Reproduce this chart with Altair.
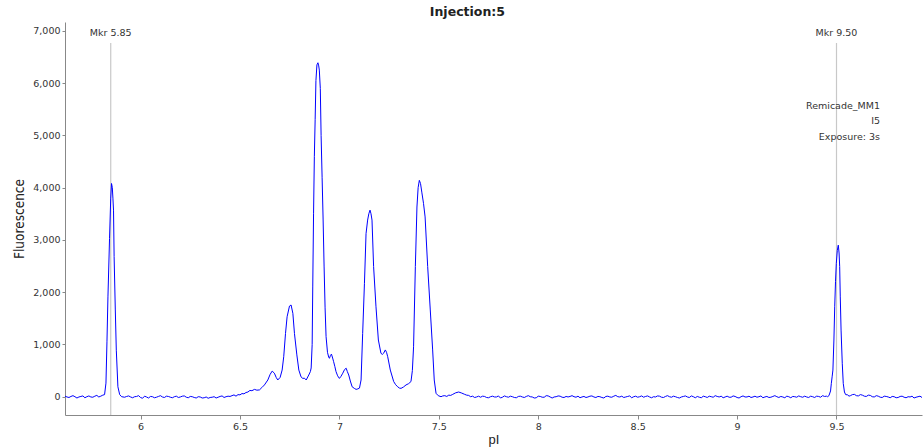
import altair as alt
import pandas as pd

# ---- trace data (pI, fluorescence) ----
baseline_left = [(5.620, 10), (5.630, -5), (5.640, -15), (5.650, 5), (5.660, 20), (5.670, 0), (5.680, -25),
                 (5.690, -5), (5.700, 5), (5.710, 15), (5.720, -20), (5.730, 0), (5.740, 15), (5.750, -5),
                 (5.760, -10), (5.770, 10), (5.780, 25), (5.790, -5), (5.800, 10), (5.810, 30)]

marker_peak_low = [(5.819, 40), (5.826, 260), (5.831, 1050), (5.836, 1910), (5.844, 3030),
                   (5.850, 3800), (5.854, 4080), (5.858, 4000), (5.861, 3800), (5.864, 3570),
                   (5.867, 2680), (5.873, 1660), (5.878, 890), (5.886, 190), (5.895, 40), (5.905, 0)]

baseline_mid = [(5.92, -10), (5.93, 5), (5.94, 15), (5.95, -5), (5.96, -20), (5.97, 0), (5.98, 5), (5.99, 20),
                (6.00, -15), (6.01, -30), (6.02, 10), (6.03, -5), (6.04, -25), (6.05, 5), (6.06, 0), (6.07, -20),
                (6.08, -10), (6.09, 5), (6.10, 20), (6.11, -5), (6.12, -15), (6.13, 10), (6.14, 5), (6.15, -10),
                (6.16, -20), (6.17, 0), (6.18, 10), (6.19, -15), (6.20, -5), (6.21, 10), (6.22, 15), (6.23, -10),
                (6.24, -20), (6.25, 5), (6.26, 0), (6.27, -15), (6.28, -25), (6.29, 0), (6.30, -5), (6.31, -25),
                (6.32, -20), (6.33, -5), (6.34, -30), (6.35, -15), (6.36, -10), (6.37, 0), (6.38, -25), (6.39, -10),
                (6.40, 5), (6.41, 15), (6.42, -15), (6.43, 0), (6.44, 10), (6.45, 5)]

sample_peaks = [(6.46, 20), (6.47, 35), (6.48, 10), (6.49, 40), (6.50, 35), (6.51, 60), (6.52, 55), (6.53, 80),
                (6.54, 90), (6.55, 120), (6.56, 115),
                (6.573, 140), (6.585, 125), (6.598, 130), (6.61, 175), (6.623, 225), (6.64, 320),
                (6.652, 430), (6.662, 490), (6.673, 450), (6.682, 370), (6.690, 320), (6.702, 370),
                (6.712, 510), (6.720, 765), (6.729, 1210), (6.737, 1530), (6.749, 1735), (6.757, 1755),
                (6.766, 1595), (6.774, 1210), (6.786, 800), (6.796, 510), (6.807, 380), (6.816, 350),
                (6.824, 355), (6.833, 320), (6.846, 415), (6.854, 480), (6.858, 550), (6.863, 1000),
                (6.866, 2100), (6.870, 3500), (6.874, 4600), (6.878, 5300), (6.882, 6050), (6.887, 6350),
                (6.892, 6390), (6.896, 6330), (6.899, 6250), (6.904, 5900), (6.908, 5000), (6.913, 4200),
                (6.918, 3400), (6.923, 2500), (6.928, 1700), (6.933, 1150), (6.940, 850), (6.946, 760),
                (6.950, 735), (6.955, 790), (6.960, 815), (6.966, 740), (6.971, 670), (6.977, 580),
                (6.983, 480), (6.991, 400), (7.000, 350), (7.008, 390), (7.017, 450), (7.026, 520),
                (7.034, 545), (7.040, 480), (7.047, 415), (7.055, 300), (7.064, 190), (7.075, 160),
                (7.084, 140), (7.093, 150), (7.101, 165), (7.109, 320), (7.117, 1210), (7.126, 2170),
                (7.134, 3120), (7.142, 3380), (7.148, 3500), (7.154, 3570), (7.159, 3500), (7.164, 3380),
                (7.172, 2490), (7.184, 1720), (7.196, 1085), (7.209, 830), (7.216, 810), (7.222, 830),
                (7.231, 895), (7.237, 850), (7.243, 765), (7.256, 510), (7.273, 290), (7.283, 230),
                (7.293, 190), (7.302, 165), (7.310, 160), (7.322, 185), (7.335, 225), (7.348, 250),
                (7.360, 290), (7.367, 500), (7.373, 955), (7.382, 2490), (7.390, 3630), (7.396, 4000),
                (7.402, 4140), (7.408, 4080), (7.415, 3900), (7.423, 3700), (7.431, 3440), (7.444, 2490),
                (7.457, 1660), (7.469, 895), (7.477, 320), (7.486, 65), (7.497, 20), (7.511, 0),
                (7.52, 15), (7.53, 20), (7.54, 5), (7.55, 30), (7.56, 25), (7.57, 45), (7.585, 75), (7.60, 90),
                (7.615, 70), (7.63, 45), (7.64, 30), (7.65, 25), (7.66, 0), (7.67, 10), (7.68, -15), (7.69, -5),
                (7.70, 10)]

baseline_right = [(7.71, -10), (7.72, 10), (7.73, 5), (7.74, -15), (7.75, -20), (7.76, 0), (7.77, 10), (7.78, -5),
                  (7.79, -5), (7.80, 15), (7.81, -25), (7.82, -10), (7.83, 15), (7.84, 0), (7.85, -10), (7.86, 10),
                  (7.87, 0), (7.88, -15), (7.89, -20), (7.90, 5),
                  (7.91, 10), (7.92, -5), (7.93, -15), (7.94, 5), (7.95, 20), (7.96, 0), (7.97, -5), (7.98, -25),
                  (7.99, -20), (8.00, 10), (8.01, 5), (8.02, -10), (8.03, -10), (8.04, 20), (8.05, 15), (8.06, -5),
                  (8.07, -25), (8.08, -5), (8.09, 0), (8.10, 15),
                  (8.11, 10), (8.12, -10), (8.13, -15), (8.14, 5), (8.15, -5), (8.16, 5), (8.17, 20), (8.18, 0),
                  (8.19, -10), (8.20, 10), (8.21, -20), (8.22, -5), (8.23, 5), (8.24, -15), (8.25, -5), (8.26, 10),
                  (8.27, 15), (8.28, -5), (8.29, -15), (8.30, 5),
                  (8.31, 0), (8.32, -15), (8.33, -25), (8.34, 5), (8.35, 10), (8.36, -5), (8.37, -10), (8.38, 10),
                  (8.39, 25), (8.40, 0), (8.41, -5), (8.42, 10), (8.43, -15), (8.44, -5), (8.45, 5), (8.46, 15),
                  (8.47, -20), (8.48, 0), (8.49, 10), (8.50, -10),
                  (8.51, 0), (8.52, 15), (8.53, -10), (8.54, 5), (8.55, 15), (8.56, -5), (8.57, -20), (8.58, 0),
                  (8.59, -5), (8.60, 15), (8.61, 10), (8.62, -10), (8.63, -15), (8.64, 5), (8.65, 20), (8.66, 0),
                  (8.67, -10), (8.68, 10), (8.69, 0), (8.70, -15),
                  (8.71, -25), (8.72, -5), (8.73, 5), (8.74, 15), (8.75, -5), (8.76, -15), (8.77, 15), (8.78, 0),
                  (8.79, -20), (8.80, 5), (8.81, -10), (8.82, -20), (8.83, 10), (8.84, 0), (8.85, -15), (8.86, 10),
                  (8.87, 0), (8.88, -10), (8.89, 20), (8.90, 5),
                  (8.91, -5), (8.92, 10), (8.93, -20), (8.94, -5), (8.95, 10), (8.96, -10), (8.97, -10), (8.98, 15),
                  (8.99, 5), (9.00, -15), (9.01, -25), (9.02, 0), (9.03, 15), (9.04, -5), (9.05, -5), (9.06, 10),
                  (9.07, -15), (9.08, -5), (9.09, 10), (9.10, -10),
                  (9.11, 0), (9.12, 15), (9.13, -20), (9.14, -5), (9.15, 5), (9.16, -15), (9.17, -10), (9.18, 5),
                  (9.19, 20), (9.20, 0), (9.21, -15), (9.22, 5), (9.23, -5), (9.24, -20), (9.25, 10), (9.26, 0),
                  (9.27, -20), (9.28, 5), (9.29, 0), (9.30, -10),
                  (9.31, 15), (9.32, 0), (9.33, -10), (9.34, 10), (9.35, -5), (9.36, -15), (9.37, 10), (9.38, 0),
                  (9.39, -15), (9.40, 10), (9.41, 5), (9.42, -10), (9.43, 20), (9.44, 5), (9.45, 10), (9.455, 0)]

marker_peak_high = [(9.462, 20), (9.470, 110), (9.474, 255), (9.478, 380), (9.482, 510), (9.487, 1085),
                    (9.491, 1720), (9.495, 2200), (9.499, 2550), (9.504, 2800), (9.509, 2900), (9.513, 2750),
                    (9.516, 2490), (9.519, 1910), (9.523, 1275), (9.529, 640), (9.534, 255), (9.540, 90),
                    (9.546, 40)]

baseline_end = [(9.556, 35), (9.563, 10), (9.57, 20), (9.58, 40), (9.59, 45), (9.60, 20), (9.61, 15), (9.62, 40),
                (9.63, 30), (9.64, 10), (9.65, 5), (9.66, 30), (9.67, 25), (9.68, 0), (9.69, -5), (9.70, 20),
                (9.71, 10), (9.72, -10), (9.73, -15), (9.74, 10), (9.75, 5), (9.76, -5), (9.77, -20), (9.78, 5),
                (9.79, 0), (9.80, -20), (9.81, -15), (9.82, 5), (9.83, 10), (9.84, -10), (9.85, -20), (9.86, 0),
                (9.87, -5), (9.88, 10), (9.89, -25), (9.90, -10), (9.91, 0), (9.92, 10), (9.93, -15)]

marker_pI = [5.85, 9.50]
marker_labels = ["Mkr 5.85", "Mkr 9.50"]
info_text = "Remicade_MM1\nI5\nExposure: 3s"
x_ticks = [6, 6.5, 7, 7.5, 8, 8.5, 9, 9.5]
y_ticks = [0, 1000, 2000, 3000, 4000, 5000, 6000, 7000]
x_domain = [5.62, 9.93]
y_domain = [-350, 7170]

points = (baseline_left + marker_peak_low + baseline_mid + sample_peaks +
          baseline_right + marker_peak_high + baseline_end)
trace = pd.DataFrame(points, columns=["pI", "Fluorescence"])
markers = pd.DataFrame({"pI": marker_pI, "label": marker_labels})
info = pd.DataFrame({"text": [info_text]})

x_scale = alt.Scale(domain=x_domain, nice=False, zero=False)
y_scale = alt.Scale(domain=y_domain, nice=False, zero=False)

x_axis = alt.Axis(values=x_ticks, labelExpr="format(datum.value, '~g')", grid=False,
                  labelFont="DejaVu Sans", labelFontSize=9.5, labelColor="#333333",
                  tickColor="#888888", domainColor="#888888", tickSize=4, labelPadding=2,
                  title="pI", titleFont="Liberation Sans", titleFontSize=13,
                  titleFontWeight="normal", titleColor="#222222", titlePadding=3)
y_axis = alt.Axis(values=y_ticks, labelExpr="format(datum.value, ',')", grid=False,
                  labelFont="DejaVu Sans", labelFontSize=9.5, labelColor="#333333",
                  tickColor="#888888", domainColor="#888888", tickSize=3, labelPadding=2,
                  title="Fluorescence",
                  titleFont="DejaVu Sans Condensed, Liberation Sans Narrow, Roboto Condensed, Liberation Sans",
                  titleFontSize=13.5, titleFontWeight="normal", titleColor="#222222", titlePadding=6)

rules = alt.Chart(markers).mark_rule(color="#c8c8c8", strokeWidth=1.2).encode(
    x=alt.X("pI:Q", scale=x_scale, axis=x_axis),
    y=alt.value(21), y2=alt.value(393))

line = alt.Chart(trace).mark_line(color="#0000ff", strokeWidth=1.0, clip=True).encode(
    x=alt.X("pI:Q", scale=x_scale, axis=x_axis),
    y=alt.Y("Fluorescence:Q", scale=y_scale, axis=y_axis))

marker_text = alt.Chart(markers).mark_text(font="DejaVu Sans", fontSize=9.5, color="#333333",
                                           align="center", baseline="middle").encode(
    x=alt.X("pI:Q", scale=x_scale), y=alt.value(11), text="label:N")

info_marks = alt.Chart(info).mark_text(font="DejaVu Sans", fontSize=9.5, color="#333333",
                                       align="right", baseline="middle", lineBreak="\n",
                                       lineHeight=15.5).encode(
    x=alt.value(815), y=alt.value(83.7), text="text:N")

chart = alt.layer(rules, line, marker_text, info_marks).properties(
    width=857, height=393,
    title=alt.TitleParams("Injection:5", font="DejaVu Sans", fontSize=12.5, fontWeight="bold",
                          color="#222222", anchor="middle", frame="bounds"),
    autosize=alt.AutoSizeParams(type="none"),
    padding={"left": 65, "top": 22, "right": 1, "bottom": 32},
).configure_view(stroke=None)

chart.save("out.html", embed_options={"renderer": "svg", "actions": False})
